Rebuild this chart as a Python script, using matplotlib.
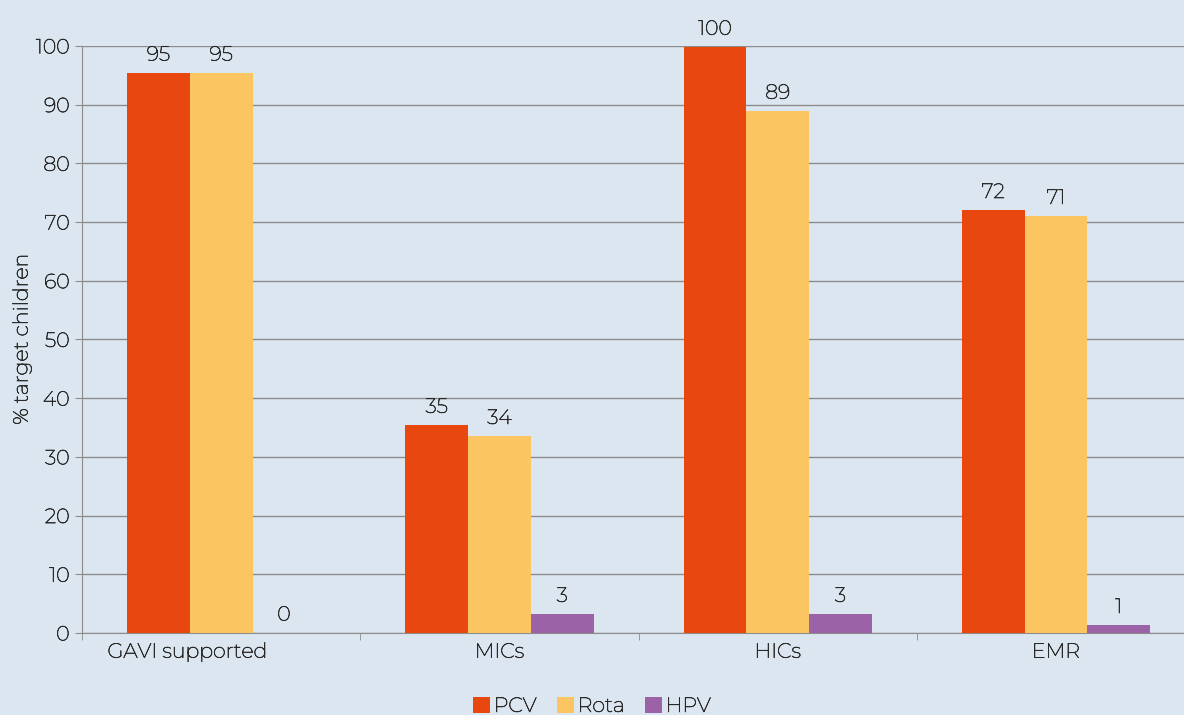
import matplotlib.pyplot as plt
import matplotlib.patheffects as pe
from matplotlib.text import Text
from matplotlib.transforms import ScaledTranslation
import numpy as np

plt.rcParams['font.family'] = ['Montserrat', 'Open Sans', 'DejaVu Sans']

categories = ["GAVI supported", "MICs", "HICs", "EMR"]
pcv = [95.4, 35.4, 99.8, 72.0]
rota = [95.4, 33.5, 88.9, 71.0]
hpv = [0.0, 3.2, 3.2, 1.3]
series_names = ["PCV", "Rota", "HPV"]
series_colors = ["#E8470F", "#FBC662", "#9B62A7"]

bg = "#DCE6F0"
txt = "#2A2A2A"
grid_c = "#8C8C8C"
fs = 14.8

fig = plt.figure(figsize=(11.84, 7.15), dpi=100, facecolor=bg)
ax = fig.add_axes([0.0693, 0.1147, 0.940, 0.821])
ax.set_facecolor(bg)

x = np.arange(len(categories))
w = 0.2255
for i, (vals, name, col) in enumerate(zip([pcv, rota, hpv], series_names, series_colors)):
    bars = ax.bar(x + (i - 1) * w, vals, w, color=col, label=name, zorder=3)
    labels = [str(int(round(v))) for v in vals]
    ax.bar_label(bars, labels=labels, padding=6, fontsize=fs, color=txt, clip_on=False)

ax.set_xlim(-0.5, 3.5)
ax.set_ylim(0, 100)
ax.set_yticks(range(0, 101, 10))
ax.yaxis.grid(True, color=grid_c, linewidth=1, zorder=0)
ax.set_axisbelow(True)

ax.set_xticks(x)
ax.set_xticklabels(categories)
ax.set_xticks(np.arange(-0.5, 3.6, 1), minor=True)
ax.tick_params(axis='x', which='major', length=0, pad=7, labelsize=fs, labelcolor=txt)
ax.tick_params(axis='x', which='minor', length=5, color=grid_c)
ax.tick_params(axis='y', length=5, color=grid_c, labelsize=fs, labelcolor=txt, pad=4)

# first category label sits left of its group in the original
first = ax.get_xticklabels()[0]
first.set_transform(first.get_transform() + ScaledTranslation(-0.34, 0, fig.dpi_scale_trans))

for s in ["top", "right"]:
    ax.spines[s].set_visible(False)
ax.spines["left"].set_color(grid_c)
ax.spines["bottom"].set_color(grid_c)

ax.set_ylabel("% target children", fontsize=fs, color=txt, labelpad=3)

fig.legend(loc="center", bbox_to_anchor=(0.5, 0.012), ncol=3, frameon=False,
           fontsize=fs, handlelength=0.8, handleheight=0.8, handletextpad=0.2,
           columnspacing=1.0, labelcolor=txt)

# installed Montserrat is very light, thicken strokes a bit
for t in fig.findobj(Text):
    t.set_path_effects([pe.withStroke(linewidth=0.45, foreground=txt)])

plt.savefig("out.png", dpi=100, facecolor=bg)
plt.close()
